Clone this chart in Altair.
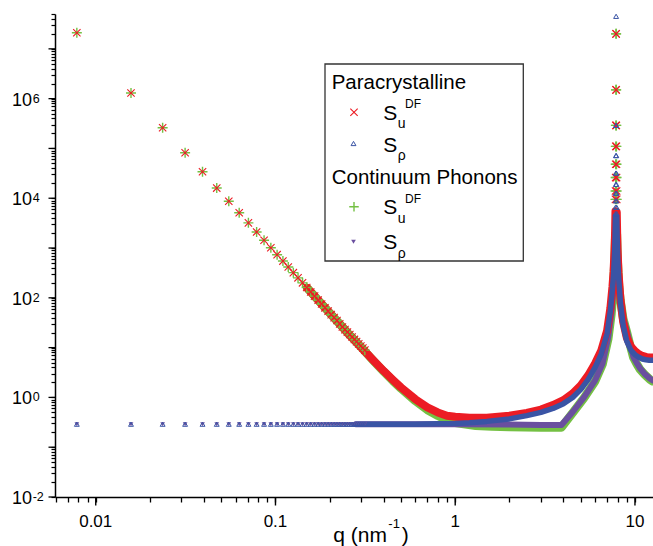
import altair as alt
import pandas as pd

FONT = "Liberation Sans"
RED = "#ec1c24"
GREEN = "#74c043"
BLUE = "#3a54a5"
PURPLE = "#6a4f9f"

# ---------------- tick labels ----------------
x_label_vals = [0.01, 0.1, 1, 10]
x_label_txt = ["0.01", "0.1", "1", "10"]
y_label_vals = [1e-2, 1e0, 1e2, 1e4, 1e6]
y_label_exp = ["-2", "0", "2", "4", "6"]
x_major = [0.01, 0.1, 1, 10]
y_major = [1e-2, 1e-1, 1e0, 1e1, 1e2, 1e3, 1e4, 1e5, 1e6, 1e7]

# ---------------- low-q discrete markers ----------------
q_low = [0.00785, 0.01571, 0.02356, 0.03142, 0.03927, 0.04712, 0.05498, 0.06283,
         0.07069, 0.07854, 0.08639, 0.09425, 0.1021, 0.11, 0.1178, 0.1257,
         0.1335, 0.1414, 0.1492, 0.1571, 0.1649, 0.1728, 0.1806, 0.1885,
         0.1963, 0.2042, 0.2121, 0.2199, 0.2278, 0.2356, 0.2435, 0.2513,
         0.2592, 0.267, 0.2749, 0.2827, 0.2906, 0.2985, 0.3063, 0.3142]
para_su_low = [2.1e7, 1.3e6, 2.6e5, 8.2e4, 3.4e4, 1.6e4, 8.7e3, 5.1e3,
               3.2e3, 2.1e3, 1.43e3, 1.01e3, 735, 547, 415, 320,
               252, 200, 161, 131, 108, 90, 75, 63,
               54, 46, 40, 35, 30, 26, 23, 20.5,
               18.3, 16.3, 14.6, 13.2, 11.9, 10.8, 9.8, 8.9]
cont_su_low = [2.1e7, 1.3e6, 2.6e5, 8.2e4, 3.4e4, 1.6e4, 8.7e3, 5.1e3,
               3.2e3, 2.1e3, 1.43e3, 1.01e3, 735, 547, 415, 320,
               252, 200, 161, 131, 108, 90, 75, 63,
               54, 46, 40, 35, 30, 26, 23, 20.5,
               18.3, 16.3, 14.6, 13.2, 11.9, 10.8, 9.8, 8.9]
para_srho_low = [0.29, 0.29, 0.29, 0.29, 0.29, 0.29, 0.29, 0.29, 0.29, 0.29,
                 0.29, 0.29, 0.29, 0.29, 0.29, 0.29, 0.29, 0.29, 0.29, 0.29,
                 0.29, 0.29, 0.29, 0.29, 0.29, 0.29, 0.29, 0.29, 0.29, 0.29,
                 0.29, 0.29, 0.29, 0.29, 0.29, 0.29, 0.29, 0.29, 0.29, 0.29]
cont_srho_low = [0.29, 0.29, 0.29, 0.29, 0.29, 0.29, 0.29, 0.29, 0.29, 0.29,
                 0.29, 0.29, 0.29, 0.29, 0.29, 0.29, 0.29, 0.29, 0.29, 0.29,
                 0.29, 0.29, 0.29, 0.29, 0.29, 0.29, 0.29, 0.29, 0.29, 0.29,
                 0.29, 0.29, 0.29, 0.29, 0.29, 0.29, 0.29, 0.29, 0.29, 0.29]

# ---------------- discrete markers at the Bragg peak ----------------
q_peak = [7.7912, 7.7991, 7.8069, 7.8148, 7.8226, 7.8305, 7.8383, 7.8462,
          7.8619, 7.8697, 7.8776, 7.8855, 7.8933, 7.9012, 7.909, 7.9169]
para_su_peak = [9.5e3, 1.4e4, 2.6e4, 4.8e4, 1.1e5, 2.9e5, 1.5e6, 2.0e7,
                2.0e7, 1.5e6, 2.9e5, 1.1e5, 4.8e4, 2.6e4, 1.4e4, 9.5e3]
cont_su_peak = [9.5e3, 1.4e4, 2.6e4, 4.8e4, 1.1e5, 2.9e5, 1.5e6, 2.0e7,
                2.0e7, 1.5e6, 2.9e5, 1.1e5, 4.8e4, 2.6e4, 1.4e4, 9.5e3]
q_peak_rho = [7.7912, 7.7991, 7.8069, 7.8148, 7.8226, 7.8305, 7.8383, 7.8462, 7.854,
              7.8619, 7.8697, 7.8776, 7.8855, 7.8933, 7.9012, 7.909, 7.9169]
para_srho_peak = [4.9e3, 6.6e3, 8.9e3, 1.26e4, 1.9e4, 3.2e4, 7.2e4, 2.9e5, 4.5e7,
                  2.9e5, 7.2e4, 3.2e4, 1.9e4, 1.26e4, 8.9e3, 6.6e3, 4.9e3]

# ---------------- dense (overlapping-marker) bands ----------------
q_red_band = [0.15, 0.18, 0.2, 0.23, 0.26, 0.3, 0.35, 0.4, 0.45, 0.5, 0.6, 0.7, 0.8,
              0.9, 1.0, 1.2, 1.5, 2.0, 2.5, 3.0, 3.5, 4.0, 4.5, 5.0, 5.5, 6.0, 6.5,
              7.0, 7.3, 7.5, 7.6, 7.7, 7.75, 7.79, 7.92, 7.96, 8.0, 8.1, 8.3, 8.6,
              9.0, 9.5, 10.0, 10.5, 11.0, 11.5, 12.0, 12.57]
para_su_band = [158, 76, 50, 28.6, 17.5, 10.2, 5.6, 3.4, 2.25, 1.58, 0.92, 0.63, 0.5,
                0.43, 0.41, 0.39, 0.39, 0.43, 0.49, 0.57, 0.7, 0.88, 1.2, 1.75, 2.8, 4.8, 8.8,
                22, 62, 170, 330, 900, 2000, 5500, 5300, 2000, 950, 320, 95, 33,
                16, 10.5, 8.5, 7.4, 6.8, 6.5, 6.3, 6.3]

q_blue_band = [0.28, 0.4, 0.6, 0.8, 1.0, 1.2, 1.5, 2.0, 2.5, 3.0, 3.5, 4.0, 4.5, 5.0,
               5.5, 6.0, 6.5, 7.0, 7.3, 7.5, 7.6, 7.7, 7.75, 7.79, 7.92, 7.96, 8.0,
               8.1, 8.3, 8.6, 9.0, 9.5, 10.0, 10.5, 11.0, 11.5, 12.0, 12.57]
para_srho_band = [0.29, 0.29, 0.29, 0.295, 0.3, 0.31, 0.33, 0.37, 0.43, 0.5, 0.6, 0.75,
                  1.0, 1.45, 2.3, 4.0, 7.5, 19, 55, 150, 290, 780, 1700, 4400, 4300,
                  1700, 800, 280, 80, 28, 13.5, 8.8, 7.2, 6.4, 5.9, 5.7, 5.6, 5.6]

q_green_band = [0.15, 0.18, 0.2, 0.23, 0.26, 0.3, 0.35, 0.4, 0.45, 0.5, 0.6, 0.7, 0.8,
                0.9, 1.0, 1.3, 1.6, 2.0, 3.0, 3.9, 4.5, 5.2, 6.0, 6.6, 7.1, 7.4, 7.55,
                7.7, 7.78, 7.93, 8.0, 8.15, 8.3, 8.6, 9.0, 9.5, 9.8, 10.2, 10.7, 11.3,
                12.1, 12.57]
cont_su_band = [158, 76, 50, 28.6, 17.5, 10.1, 5.5, 3.3, 2.15, 1.5, 0.85, 0.56, 0.43,
                0.35, 0.31, 0.27, 0.26, 0.255, 0.25, 0.25, 0.49, 0.97, 2.1, 4.6, 15, 48,
                115, 580, 1900, 1900, 620, 170, 90, 38, 21, 9.6, 6.3, 4.8, 3.6, 2.9,
                2.3, 2.1]

q_purple_band = [0.28, 0.5, 1.0, 2.0, 3.0, 3.9, 4.5, 5.2, 6.0, 6.6, 7.1, 7.4, 7.55,
                 7.7, 7.78, 7.93, 8.0, 8.15, 8.3, 8.6, 9.0, 9.5, 9.8, 10.2, 10.7, 11.3,
                 12.1, 12.57]
cont_srho_band = [0.29, 0.29, 0.29, 0.285, 0.28, 0.28, 0.51, 1.0, 2.2, 4.8, 16, 50,
                  120, 600, 2000, 2000, 650, 180, 95, 40, 22, 10, 6.5, 5.0, 3.8, 3.0,
                  2.4, 2.2]

# ---------------- scales / axes ----------------
X_MIN, X_MAX = 0.005934, 12.6
Y_MIN, Y_MAX = 0.01, 5.01e7
xscale = alt.Scale(type="log", domain=[X_MIN, X_MAX], nice=False)
yscale = alt.Scale(type="log", domain=[Y_MIN, Y_MAX], nice=False)

x_minor = [round(m * 10.0 ** e, 10) for e in range(-3, 2) for m in range(1, 10)
           if X_MIN * 0.999 <= m * 10.0 ** e <= X_MAX]
y_minor = [round(m * 10.0 ** e, 12) for e in range(-2, 8) for m in range(1, 10)
           if Y_MIN * 0.999 <= m * 10.0 ** e <= Y_MAX * 1.001]

AX_X = alt.Axis(values=x_minor, labels=False, title=None, tickSize=5, tickWidth=1.3,
                tickColor="black", domainColor="black", domainWidth=1.5, grid=False)
AX_Y = alt.Axis(values=y_minor, labels=False, title=None, tickSize=4, tickWidth=1.2,
                tickColor="black", domainColor="black", domainWidth=1.5, grid=False)


def XE():
    return alt.X("q:Q", scale=xscale, axis=AX_X)


def YE():
    return alt.Y("s:Q", scale=yscale, axis=AX_Y)


one = pd.DataFrame({"a": [0]})


def df(q, s):
    return pd.DataFrame({"q": q, "s": s})


xmaj = alt.Chart(pd.DataFrame({"q": x_major})).mark_rule(color="black", strokeWidth=1.4).encode(
    x=XE(), y=alt.value(483), y2=alt.value(491.5))
ymaj = alt.Chart(pd.DataFrame({"s": y_major})).mark_rule(color="black", strokeWidth=1.3).encode(
    y=YE(), x=alt.value(-6.5), x2=alt.value(0))


def band(q, s, color, width):
    return alt.Chart(df(q, s)).mark_line(color=color, strokeWidth=width,
                                         strokeJoin="round", strokeCap="round").encode(x=XE(), y=YE())


X_SHAPE = "M-1,-1L1,1M-1,1L1,-1"
PLUS_SHAPE = "M-1,0L1,0M0,-1L0,1"


def red_pts(q, s):
    return alt.Chart(df(q, s)).mark_point(shape=X_SHAPE, filled=False, color=RED,
                                          strokeWidth=1.1, size=54, opacity=1).encode(x=XE(), y=YE())


def green_pts(q, s):
    return alt.Chart(df(q, s)).mark_point(shape=PLUS_SHAPE, filled=False, color=GREEN,
                                          strokeWidth=1.4, size=100, opacity=1).encode(x=XE(), y=YE())


def blue_pts(q, s):
    return alt.Chart(df(q, s)).mark_point(shape="triangle-up", filled=False, color=BLUE,
                                          strokeWidth=1.0, size=24, opacity=1).encode(x=XE(), y=YE())


def purple_pts(q, s):
    return alt.Chart(df(q, s)).mark_point(shape="triangle-down", filled=True, color=PURPLE,
                                          size=22, opacity=1).encode(x=XE(), y=YE())


# ---------------- axis labels (text) ----------------
ylab_df = pd.DataFrame({"s": y_label_vals, "t": ["10"] * len(y_label_vals), "e": y_label_exp})
ylab_base = alt.Chart(ylab_df).mark_text(align="right", baseline="alphabetic", fontSize=18,
                                         dy=7, color="black").encode(
    y=YE(), x=alt.value(-23), text="t:N")
ylab_exp = alt.Chart(ylab_df).mark_text(align="left", baseline="alphabetic", fontSize=12.5,
                                        dy=4, color="black").encode(
    y=YE(), x=alt.value(-22.3), text="e:N")

xlab = alt.Chart(pd.DataFrame({"q": x_label_vals, "t": x_label_txt})).mark_text(
    align="center", baseline="alphabetic", fontSize=17, color="black").encode(
    x=XE(), y=alt.value(513.3), text="t:N")


def txt(s, x, y, size):
    return alt.Chart(one).mark_text(text=s, align="left", baseline="alphabetic",
                                    fontSize=size, color="black").encode(
        x=alt.value(x), y=alt.value(y))


title_parts = [txt("q (nm", 278.3, 527.5, 21), txt("-1", 333.3, 514, 13), txt(")", 346.7, 527.5, 21)]

# ---------------- legend ----------------
legend_box = alt.Chart(one).mark_rect(fill="white", stroke="#333333", strokeWidth=1.3).encode(
    x=alt.value(270), x2=alt.value(468.3), y=alt.value(50), y2=alt.value(247))


def sym(x, y, **mk):
    return alt.Chart(one).mark_point(opacity=1, **mk).encode(x=alt.value(x), y=alt.value(y))


legend = [
    legend_box,
    txt("Paracrystalline", 276.7, 75.3, 20.5),
    sym(299, 98.3, shape=X_SHAPE, filled=False, color=RED, strokeWidth=1.1, size=54),
    txt("S", 328.3, 106, 21), txt("u", 342.8, 114.3, 14), txt("DF", 350, 94.3, 12),
    sym(298.5, 129.5, shape="triangle-up", filled=False, color=BLUE, strokeWidth=1.0, size=24),
    txt("S", 328.3, 138, 21), txt("ρ", 342.8, 146, 14),
    txt("Continuum Phonons", 276.7, 170.3, 20.5),
    sym(299, 192.7, shape=PLUS_SHAPE, filled=False, color=GREEN, strokeWidth=1.4, size=90),
    txt("S", 328.3, 200.3, 21), txt("u", 342.8, 208.6, 14), txt("DF", 350, 188.6, 12),
    sym(298.5, 227.7, shape="triangle-down", filled=True, color=PURPLE, size=22),
    txt("S", 328.3, 235.3, 21), txt("ρ", 342.8, 243.5, 14),
]

layers = [
    xmaj, ymaj,
    band(q_green_band, cont_su_band, GREEN, 8.5),
    band(q_purple_band, cont_srho_band, PURPLE, 6),
    band(q_red_band, para_su_band, RED, 8),
    band(q_blue_band, para_srho_band, BLUE, 5.5),
    green_pts(q_low, cont_su_low),
    green_pts(q_peak, cont_su_peak),
    purple_pts(q_low, cont_srho_low),
    red_pts(q_low, para_su_low),
    red_pts(q_peak, para_su_peak),
    blue_pts(q_low, para_srho_low),
    blue_pts(q_peak_rho, para_srho_peak),
    ylab_base, ylab_exp, xlab,
] + title_parts + legend

chart = alt.layer(*layers).properties(
    width=598, height=483,
    padding={"left": 55, "top": 14, "right": 0, "bottom": 49},
    autosize=alt.AutoSizeParams(type="none"),
).configure(font=FONT).configure_view(stroke=None)

chart.save("out.html", embed_options={"renderer": "svg", "actions": False})
